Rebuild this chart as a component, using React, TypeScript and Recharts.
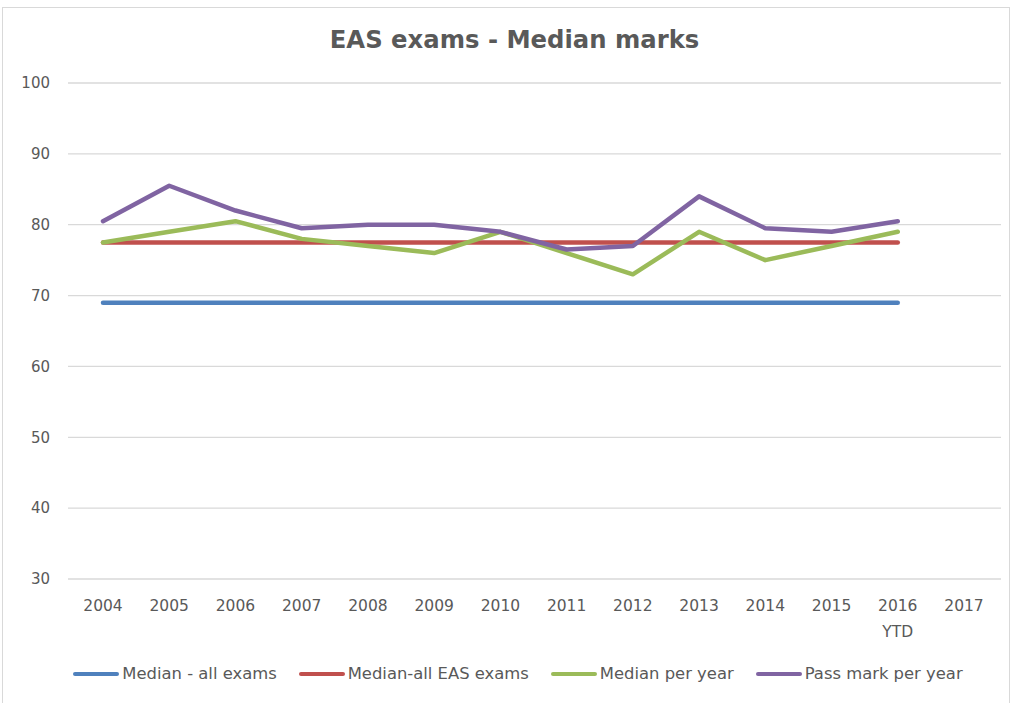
import { LineChart, Line, XAxis, YAxis, CartesianGrid } from 'recharts';

const years = ['2004', '2005', '2006', '2007', '2008', '2009', '2010', '2011', '2012', '2013', '2014', '2015', '2016 YTD', '2017'];
const medianAllExams = [69, 69, 69, 69, 69, 69, 69, 69, 69, 69, 69, 69, 69, null];
const medianAllEas = [77.5, 77.5, 77.5, 77.5, 77.5, 77.5, 77.5, 77.5, 77.5, 77.5, 77.5, 77.5, 77.5, null];
const medianPerYear = [77.5, 79, 80.5, 78, 77, 76, 79, 76, 73, 79, 75, 77, 79, null];
const passMarkPerYear = [80.5, 85.5, 82, 79.5, 80, 80, 79, 76.5, 77, 84, 79.5, 79, 80.5, null];
const yTicks = [30, 40, 50, 60, 70, 80, 90, 100];

const series = [
  { key: 'medAll', name: 'Median - all exams', color: '#4F81BD', values: medianAllExams },
  { key: 'medEas', name: 'Median-all EAS exams', color: '#C0504D', values: medianAllEas },
  { key: 'medYear', name: 'Median per year', color: '#9BBB59', values: medianPerYear },
  { key: 'passYear', name: 'Pass mark per year', color: '#8064A2', values: passMarkPerYear },
];

const data = years.map((year, i) => {
  const row: Record<string, string | number | null> = { year };
  series.forEach((s) => {
    row[s.key] = s.values[i];
  });
  return row;
});

const FONT = '"DejaVu Sans", Verdana, sans-serif';
const TEXT = '#595959';

function YearTick(props: any) {
  const { x, y, payload } = props;
  const parts = String(payload.value).split(' ');
  return (
    <text x={x} y={y} textAnchor="middle" fill={TEXT} fontSize={15.5} fontFamily={FONT}>
      {parts.map((p, i) => (
        <tspan key={i} x={x} dy={i === 0 ? 32 : 26}>
          {p}
        </tspan>
      ))}
    </text>
  );
}

export default function App() {
  return (
    <div style={{ position: 'absolute', left: 0, top: 0, width: 1011, height: 703, background: '#fff', overflow: 'hidden' }}>
      <div style={{ position: 'absolute', left: 2, top: 7, width: 1006, height: 720, border: '1px solid #D9D9D9' }} />
      <div
        style={{
          position: 'absolute',
          top: 25,
          left: 0,
          width: 1029,
          textAlign: 'center',
          fontFamily: FONT,
          fontWeight: 'bold',
          fontSize: 24.3,
          color: TEXT,
        }}
      >
        EAS exams - Median marks
      </div>
      <div style={{ position: 'absolute', left: 0, top: 0 }}>
        <LineChart width={1011} height={703} data={data} margin={{ top: 83, right: 10, bottom: 64, left: 8 }}>
          <CartesianGrid vertical={false} stroke="#D9D9D9" strokeWidth={1.3} />
          <XAxis
            dataKey="year"
            axisLine={false}
            tickLine={false}
            tickSize={0}
            tickMargin={0}
            height={60}
            interval={0}
            padding={{ left: 35, right: 37 }}
            tick={<YearTick />}
          />
          <YAxis
            domain={[30, 100]}
            ticks={yTicks}
            axisLine={false}
            tickLine={false}
            tickSize={0}
            tickMargin={18}
            width={60}
            tick={{ fill: TEXT, fontSize: 15, fontFamily: FONT }}
          />
          {series.map((s) => (
            <Line
              key={s.key}
              dataKey={s.key}
              name={s.name}
              stroke={s.color}
              strokeWidth={4.5}
              strokeLinecap="round"
              strokeLinejoin="round"
              dot={false}
              activeDot={false}
              isAnimationActive={false}
            />
          ))}
        </LineChart>
      </div>
      <div
        style={{
          position: 'absolute',
          top: 664,
          left: 0,
          width: 1036,
          display: 'flex',
          justifyContent: 'center',
          gap: 22,
          fontFamily: FONT,
          fontSize: 16.4,
          color: TEXT,
        }}
      >
        {series.map((s) => (
          <div key={s.key} style={{ display: 'flex', alignItems: 'center', gap: 3 }}>
            <div style={{ width: 46, height: 4, background: s.color, borderRadius: 2 }} />
            <span>{s.name}</span>
          </div>
        ))}
      </div>
    </div>
  );
}
